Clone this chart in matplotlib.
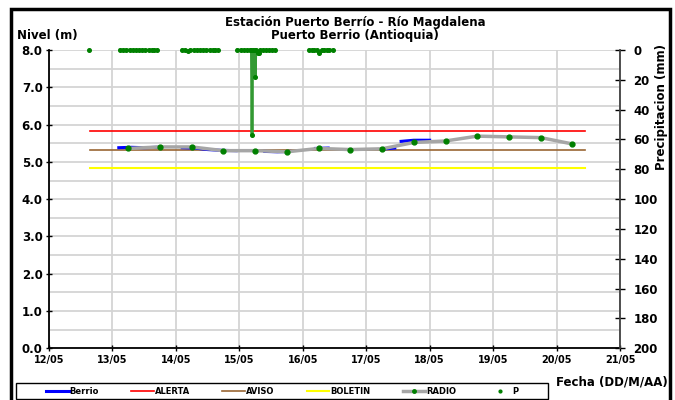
import numpy as np
import matplotlib.pyplot as plt
from matplotlib.patches import Rectangle
from matplotlib.lines import Line2D

nan = np.nan

# days of May as decimal (12.0 = 12/05 00:00)
radio_t = [13.25, 13.75, 14.25, 14.75, 15.25, 15.75, 16.25, 16.75, 17.25, 17.75,
           18.25, 18.75, 19.25, 19.75, 20.25]
radio_v = [5.36, 5.40, 5.40, 5.30, 5.30, 5.27, 5.36, 5.33, 5.35, 5.52,
           5.56, 5.69, 5.67, 5.65, 5.48]

berrio_t = [13.10, 13.30, 13.50, 13.70, nan, 14.10, 14.30, 14.50, 14.70, 14.95, nan,
            15.40, 15.60, 15.80, nan, 16.20, 16.40, nan, 17.30, 17.45, nan, 17.55, 17.75, 18.00]
berrio_v = [5.38, 5.39, 5.38, 5.39, nan, 5.38, 5.37, 5.33, 5.31, 5.30, nan,
            5.28, 5.27, 5.28, nan, 5.36, 5.37, nan, 5.35, 5.37, nan, 5.55, 5.58, 5.58]

limits_t = [12.65, 20.45]
alerta = 5.83
aviso = 5.33
boletin = 4.83

p_t = [12.63, nan,
       13.12, 13.17, 13.22, 13.27, 13.32, 13.37, 13.42, 13.47, 13.52, 13.57, 13.62, 13.66, 13.70, nan,
       14.10, 14.15, 14.19, 14.23, 14.28, 14.33, 14.38, 14.43, 14.48, 14.53, 14.58, 14.62, 14.66, nan,
       14.97, 15.02, 15.07, 15.12, 15.17, 15.19, 15.20, 15.21, 15.24, 15.25, 15.26,
       15.29, 15.31, 15.33, 15.37, 15.42, 15.47, 15.52, 15.57, nan,
       16.10, 16.14, 16.18, 16.22, 16.26, 16.30, 16.34, 16.38, 16.42, 16.47]
p_v = [0, nan,
       0, 0, 0, 0, 0, 0, 0, 0, 0, 0, 0, 0, 0, nan,
       0, 0, 1, 0, 0, 0, 0, 0, 0, 0, 0, 0, 0, nan,
       0, 0, 0, 0, 0, 0, 57, 0, 0, 18, 0,
       2, 2, 0, 0, 0, 0, 0, 0, nan,
       0, 0, 0, 0, 2, 0, 0, 0, 0, 0]

x_ticks = list(range(12, 22))
x_labels = [f'{d:02d}/05' for d in x_ticks]

fig = plt.figure(figsize=(6.75, 4), dpi=100)
ax = fig.add_axes([49/675, 1 - 348.3/400, (620 - 49)/675, (348.3 - 50)/400])

ax.set_xlim(12, 21)
ax.set_ylim(0, 8)
ax.set_xticks(x_ticks)
ax.set_xticklabels(x_labels, fontsize=7, fontweight='bold')
ax.set_yticks(np.arange(0, 8.1, 1.0))
ax.set_yticklabels([f'{v:.1f}' for v in np.arange(0, 8.1, 1.0)], fontsize=8.5, fontweight='bold')
ax.set_yticks(np.arange(0.5, 8, 1.0), minor=True)
ax.tick_params(axis='y', which='minor', length=0)
ax.grid(True, which='both', color='#d4d4d4', lw=1.3)
ax.set_axisbelow(True)
for s in ['top', 'right']:
    ax.spines[s].set_visible(False)
for s in ['left', 'bottom']:
    ax.spines[s].set_linewidth(1.3)
ax.tick_params(axis='both', direction='inout', length=5, width=1, pad=2)

ax.plot(limits_t, [alerta, alerta], color='red', lw=1.2, zorder=3)
ax.plot(limits_t, [aviso, aviso], color='#996633', lw=1.2, zorder=3)
ax.plot(limits_t, [boletin, boletin], color='yellow', lw=1.5, zorder=3)
ax.plot(berrio_t, berrio_v, color='blue', lw=2.2, zorder=4)
ax.plot(radio_t, radio_v, color='#a6a6a6', lw=2.5, marker='o', ms=3.5,
        mfc='green', mec='green', zorder=5)

ax2 = ax.twinx()
ax2.set_ylim(200, 0)
ax2.set_yticks(np.arange(0, 201, 20))
ax2.set_yticklabels([str(v) for v in range(0, 201, 20)], fontsize=8.5, fontweight='bold')
for s in ['top', 'left', 'bottom']:
    ax2.spines[s].set_visible(False)
ax2.spines['right'].set_color('#404040')
ax2.spines['right'].set_linewidth(1.3)
ax2.tick_params(axis='y', direction='inout', length=7, width=1, pad=6)
ax2.plot(p_t, p_v, color='#339933', lw=2, marker='o', ms=2.6, mfc='green',
         mec='green', clip_on=False, zorder=6)

fig.text(662/675, 1 - 107/400, 'Precipitacion (mm)', ha='center', va='center',
         rotation=90, fontsize=8.5, fontweight='bold')
fig.text(355/675, 1 - 16/400, 'Estación Puerto Berrío - Río Magdalena\nPuerto Berrio (Antioquia)',
         ha='center', va='top', fontsize=8.5, fontweight='bold', linespacing=1.0)
fig.text(17/675, 1 - 35/400, 'Nivel (m)', ha='left', va='center', fontsize=8.5, fontweight='bold')
fig.text(668/675, 1 - 382/400, 'Fecha (DD/M/AA)', ha='right', va='center', fontsize=8.5, fontweight='bold')

# legend: frame drawn separately, entries spread evenly like the original
names = ['Berrio', 'ALERTA', 'AVISO', 'BOLETIN', 'RADIO', 'P']
handles = [
    Line2D([], [], color='blue', lw=2.2),
    Line2D([], [], color='red', lw=1.2),
    Line2D([], [], color='#996633', lw=1.2),
    Line2D([], [], color='yellow', lw=1.5),
    Line2D([], [], color='#a6a6a6', lw=2.5, marker='o', ms=2.5, mfc='green', mec='green'),
    Line2D([], [], ls='none', marker='o', ms=2, mfc='green', mec='green'),
]
leg = fig.legend(handles, names, loc='center left', ncol=6,
                 bbox_to_anchor=(46/675, 1 - 391.5/400, (518 - 46)/675, 0), mode='expand',
                 prop={'size': 6, 'weight': 'bold'}, frameon=False,
                 borderaxespad=0, handlelength=2.7, handletextpad=0.1, borderpad=0)
fig.patches.append(Rectangle((16/675, 1 - 399.3/400), (548 - 16)/675, 16.6/400,
                             transform=fig.transFigure, fill=False, edgecolor='black', lw=1))

fig.patches.append(Rectangle((11/675, -0.01), (670 - 11)/675, 0.9875, transform=fig.transFigure,
                             fill=False, edgecolor='black', lw=2.5))

fig.savefig('out.png', dpi=100)
